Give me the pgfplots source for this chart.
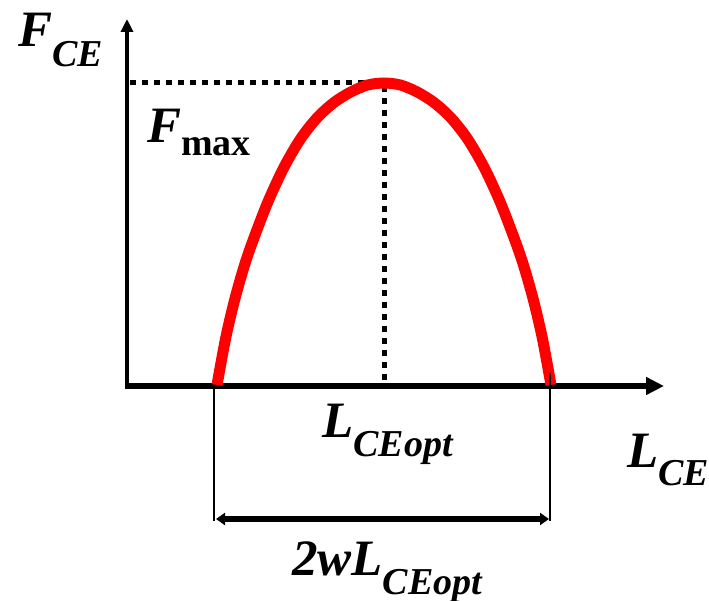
\documentclass[border=0pt]{standalone}
\usepackage{pgfplots}
\pgfplotsset{compat=1.18}
\usetikzlibrary{arrows.meta}
\usepackage{fontspec}
\setmainfont{Liberation Serif}
\newcommand\fbig{\fontsize{51}{51}\selectfont\bfseries\itshape}
\newcommand\fsub{\fontsize{38}{38}\selectfont\bfseries\itshape}
\newcommand\fsubup{\fontsize{38}{38}\selectfont\bfseries\upshape}
\begin{document}
\begin{tikzpicture}
\path[use as bounding box] (0,0) rectangle (709pt,601pt);
\begin{axis}[
  at={(0,0)}, anchor=south west,
  width=709pt, height=601pt, scale only axis,
  xmin=0, xmax=709, ymin=0, ymax=601, y dir=reverse,
  hide axis, clip=false]
\addplot[draw=none] coordinates {(0,0) (709,601)};
% axes
\draw[line width=4.5pt, -{Triangle[length=13pt,width=12pt]}] (axis cs:127,388.5) -- (axis cs:127,19);
\draw[line width=5.5pt, -{Triangle[length=18pt,width=17pt]}] (axis cs:124.75,386) -- (axis cs:664,386);
% dotted guides
\draw[line width=5pt, dash pattern=on 6pt off 6pt] (axis cs:130,83) -- (axis cs:384,83);
\draw[line width=5pt, dash pattern=on 6pt off 6pt] (axis cs:384,86) -- (axis cs:384,383);
% curve
\addplot[color={rgb,255:red,255;green,0;blue,0}, line width=11pt, smooth] coordinates {
(217,385) (225.35,339.7) (233.7,303.5) (242.05,273.3) (250.4,247.6) (267.1,203.8)
(283.8,167.6) (300.5,138.9) (317.2,117.7) (333.9,102.6) (350.6,92.1) (367.3,85.1)
(384,83)
(400.7,85.1) (417.4,92.1) (434.1,102.6) (450.8,117.7) (467.5,138.9) (484.2,167.6)
(500.9,203.8) (517.6,247.6) (525.95,273.3) (534.3,303.5) (542.65,339.7) (551,385)};
% dimension lines
\draw[line width=2pt] (axis cs:214,388) -- (axis cs:214,521);
\draw[line width=2pt] (axis cs:550,373) -- (axis cs:550,521);
\draw[line width=6pt, {Triangle[length=9pt,width=12pt]}-{Triangle[length=9pt,width=12pt]}] (axis cs:216,519) -- (axis cs:549,519);
% labels
\node[anchor=base west, inner sep=0pt] at (axis cs:18,47) {\fbig F\raisebox{-20pt}{\fsub CE}};
\node[anchor=base west, inner sep=0pt] at (axis cs:147,143) {\fbig F\raisebox{-13pt}{\fsubup max}};
\node[anchor=base west, inner sep=0pt] at (axis cs:322,437) {\fbig L\raisebox{-19pt}{\fsub CEopt}};
\node[anchor=base west, inner sep=0pt] at (axis cs:627,467) {\fbig L\raisebox{-18pt}{\fsub CE}};
\node[anchor=base west, inner sep=0pt] at (axis cs:292,575) {\fbig 2wL\raisebox{-19pt}{\fsub CEopt}};
\end{axis}
\end{tikzpicture}
\end{document}
